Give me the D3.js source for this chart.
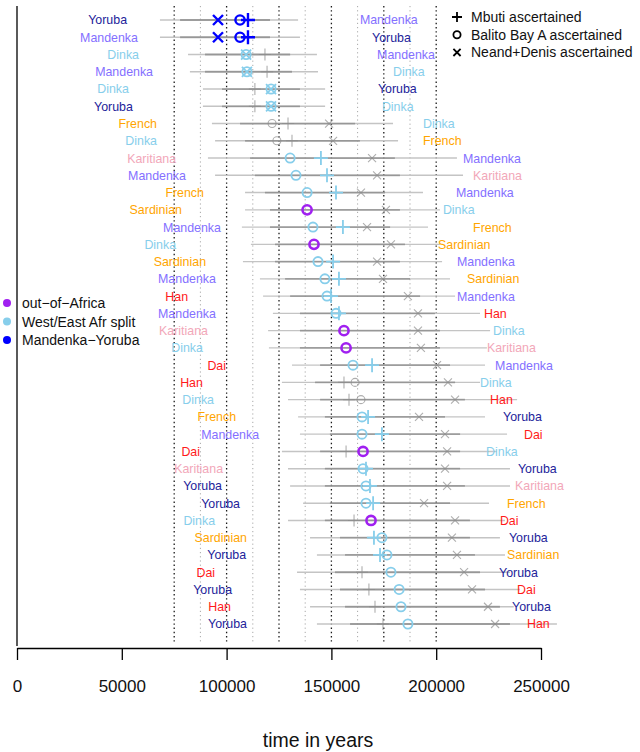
<!DOCTYPE html>
<html>
<head>
<meta charset="utf-8">
<script src="https://cdn.jsdelivr.net/npm/d3@7"></script>
<style>
  html, body { margin: 0; padding: 0; background: #fff; }
  svg { display: block; font-family: "Liberation Sans", Arial, Helvetica, sans-serif; }
</style>
</head>
<body>
<svg id="chart" width="640" height="752"></svg>
<script>
// Population pair shown at each end of a row (top row first)
const leftNames = ["Yoruba","Mandenka","Dinka","Mandenka","Dinka","Yoruba","French","Dinka","Karitiana","Mandenka","French","Sardinian","Mandenka","Dinka","Sardinian","Mandenka","Han","Mandenka","Karitiana","Dinka","Dai","Han","Dinka","French","Mandenka","Dai","Karitiana","Yoruba","Yoruba","Dinka","Sardinian","Yoruba","Dai","Yoruba","Han","Yoruba"];
const rightNames = ["Mandenka","Yoruba","Mandenka","Dinka","Yoruba","Dinka","Dinka","French","Mandenka","Karitiana","Mandenka","Dinka","French","Sardinian","Mandenka","Sardinian","Mandenka","Han","Dinka","Karitiana","Mandenka","Dinka","Han","Yoruba","Dai","Dinka","Yoruba","Karitiana","French","Dai","Yoruba","Sardinian","Yoruba","Dai","Yoruba","Han"];

// Where each name sits, in years
const leftAt = [52500,57700,58200,64900,53400,55300,66800,66800,75900,80600,89200,78700,97300,75900,90200,94900,81600,94900,91100,88700,99700,88700,94000,104500,115500,87300,98300,97800,106400,94500,109700,109300,94500,102600,102100,109700];
const rightAt = [163600,169400,171800,179400,172200,174100,193700,193700,212800,217600,209400,203200,217600,200900,209900,214700,209900,222800,227100,224200,228100,220900,225700,231900,241900,223800,239000,237600,233800,230400,234700,233800,230000,238600,236200,243300];

// Split-time estimates (years) under the three ascertainment schemes
const mbuti  = [110200,110200,118300,119300,113500,113500,129300,131200,145000,147900,152200,null,155500,null,150800,153600,149800,153600,null,null,169400,156000,158400,167500,174100,157000,166500,168400,169900,160800,170300,173200,164600,167900,170800,174600];
const balito = [106400,106400,109300,109700,121200,121200,121700,124000,130300,133100,138400,138400,141200,141700,143600,146900,147900,152200,156000,157000,160300,161300,164100,164600,164600,165100,165100,166500,166500,168900,174100,176500,178400,182300,183200,186500];
const neand  = [95900,95900,109300,109700,121200,121200,148900,150800,169400,171800,164100,176000,167000,178400,171800,174600,186500,191300,191300,192700,200400,205600,209000,191800,204200,205200,204200,205200,194200,209000,207500,209900,213300,217100,224700,228100];

// Confidence ranges (years): wide and narrow
const wideLo   = [68200,68200,81600,82500,88700,88700,93000,94500,91100,94500,108800,108800,107300,111600,107800,115900,117400,122100,119800,120200,131200,126400,129300,134100,135000,126400,129300,130300,136500,129300,139800,143100,133600,135000,139800,143100];
const wideHi   = [134100,135000,143100,143600,147000,147000,179400,181800,209900,212800,193700,201800,196100,201800,202800,206600,209000,220900,225700,224200,223300,220900,238600,223300,233800,229000,235200,235200,225200,232800,230400,232800,235200,240000,237000,257600];
const narrowLo = [77800,77800,89700,89700,97800,97800,106400,108800,111200,113500,118300,120700,120700,123100,123100,127900,130300,135000,135000,135000,144600,142200,144600,146900,149300,144600,146900,146900,149300,146900,154100,156500,151700,154100,156500,158900];
const narrowHi = [120700,120700,130300,131200,135000,135000,161300,163600,180300,182700,175600,182700,178000,185100,182700,187500,192300,199400,201800,201800,206600,209000,213700,204200,211400,211400,211400,213700,206600,216100,216100,218500,220900,223300,230400,235200];

// Which split each row dates, and which estimates are highlighted for it
const splitKind = ["MY","MY","WE","WE","WE","WE",null,null,"WE","WE","WE","OoA","WE","OoA","WE","WE","WE","WE","OoA","OoA","WE",null,null,"WE","WE","OoA","WE","WE","WE","OoA","WE","WE","WE","WE","WE","WE"];
const highlighted = ["+ox","+ox","ox","ox","ox","ox","","","+o","+o","+o","o","+o","o","+o","+o","+o","+o","o","o","+o","","","+o","+o","o","+o","+o","+o","o","+o","+o","o","o","o","o"];

const axisTicks = [0,50000,100000,150000,200000,250000];
const gridMajor = [75000,100000,125000,150000,175000,200000];
const gridMinor = [87500,112500,137500,162500,187500];

const splitNames = ["out\u2212of\u2212Africa","West/East Afr split","Mandenka\u2212Yoruba"];
const splitKeys = ["OoA","WE","MY"];
const markerNames = ["Mbuti ascertained","Balito Bay A ascertained","Neand+Denis ascertained"];

const splitColor = { OoA: "#a020f0", WE: "#87ceeb", MY: "#0000ff" };
const popColor = {
  Yoruba: "#23239a", Mandenka: "#8470ff", Dinka: "#87ceeb", French: "#ffa500",
  Sardinian: "#ffa500", Karitiana: "#f2a7b9", Han: "#ff1a1a", Dai: "#ff1a1a"
};
const grey = "#8c8c8c";

const svg = d3.select("#chart");
const x = d3.scaleLinear().domain([0, 250000]).range([17, 541]);
const y = d3.scalePoint().domain(d3.range(leftNames.length)).range([20, 624]);

const rows = leftNames.map((n, i) => ({
  i, left: n, right: rightNames[i], leftAt: leftAt[i], rightAt: rightAt[i],
  plus: mbuti[i], circ: balito[i], cross: neand[i],
  wLo: wideLo[i], wHi: wideHi[i], nLo: narrowLo[i], nHi: narrowHi[i],
  kind: splitKind[i], hl: highlighted[i]
}));

// Left frame line
svg.append("line").attr("x1", x(0)).attr("x2", x(0)).attr("y1", 6).attr("y2", 646)
  .attr("stroke", "#000").attr("stroke-width", 1.3);

// Dotted reference lines
svg.append("g").selectAll("line").data(gridMinor).join("line")
  .attr("x1", d => x(d)).attr("x2", d => x(d)).attr("y1", 6).attr("y2", 644)
  .attr("stroke", "#a8a8a8").attr("stroke-width", 1).attr("stroke-dasharray", "1.2,3");
svg.append("g").selectAll("line").data(gridMajor).join("line")
  .attr("x1", d => x(d)).attr("x2", d => x(d)).attr("y1", 6).attr("y2", 644)
  .attr("stroke", "#1a1a1a").attr("stroke-width", 1.3).attr("stroke-dasharray", "1.4,2.8");

// Confidence ranges
const ci = svg.append("g");
ci.selectAll("line.wide").data(rows).join("line").attr("class", "wide")
  .attr("x1", d => x(d.wLo)).attr("x2", d => x(d.wHi))
  .attr("y1", d => y(d.i)).attr("y2", d => y(d.i))
  .attr("stroke", "#c4c4c4").attr("stroke-width", 1.4);
ci.selectAll("line.narrow").data(rows).join("line").attr("class", "narrow")
  .attr("x1", d => x(d.nLo)).attr("x2", d => x(d.nHi))
  .attr("y1", d => y(d.i)).attr("y2", d => y(d.i))
  .attr("stroke", "#7a7a7a").attr("stroke-width", 1.8).attr("stroke-opacity", 0.6);

// Population names
svg.append("g").selectAll("text").data(rows).join("text")
  .attr("x", d => x(d.leftAt)).attr("y", d => y(d.i)).attr("dy", "0.36em")
  .attr("text-anchor", "end").attr("font-size", 12.4)
  .attr("fill", d => popColor[d.left]).text(d => d.left);
svg.append("g").selectAll("text").data(rows).join("text")
  .attr("x", d => x(d.rightAt)).attr("y", d => y(d.i)).attr("dy", "0.36em")
  .attr("text-anchor", "start").attr("font-size", 12.4)
  .attr("fill", d => popColor[d.right]).text(d => d.right);

// Marker drawing helpers
function plusPath(cx, cy, h) { return `M${cx - h},${cy}H${cx + h}M${cx},${cy - h}V${cy + h}`; }
function crossPath(cx, cy, h) { return `M${cx - h},${cy - h}L${cx + h},${cy + h}M${cx - h},${cy + h}L${cx + h},${cy - h}`; }

const marks = svg.append("g");
function style(d, key) {
  const on = d.kind && d.hl.includes(key);
  return on ? { c: splitColor[d.kind], w: d.kind === "WE" ? 1.8 : 2.4, o: 1 }
            : { c: grey, w: 1.1, o: 0.7 };
}
// Grey markers first, highlighted ones on top
[false, true].forEach(layer => {
  rows.forEach(d => {
    const cy = y(d.i);
    if (d.cross != null) {
      const s = style(d, "x"), on = s.c !== grey;
      if (on === layer) marks.append("path").attr("d", crossPath(x(d.cross), cy, on ? 5 : 4))
        .attr("stroke", s.c).attr("stroke-width", s.w).attr("stroke-opacity", s.o).attr("fill", "none");
    }
    if (d.circ != null) {
      const s = style(d, "o"), on = s.c !== grey;
      if (on === layer) marks.append("circle").attr("cx", x(d.circ)).attr("cy", cy).attr("r", on ? 4.6 : 4)
        .attr("stroke", s.c).attr("stroke-width", d.kind === "OoA" && on ? 2.6 : s.w)
        .attr("stroke-opacity", s.o).attr("fill", "none");
    }
    if (d.plus != null) {
      const s = style(d, "+"), on = s.c !== grey;
      if (on === layer) marks.append("path").attr("d", plusPath(x(d.plus), cy, on ? 7 : 6))
        .attr("stroke", s.c).attr("stroke-width", s.w).attr("stroke-opacity", s.o).attr("fill", "none");
    }
  });
});

// X axis
const axis = d3.axisBottom(x).tickValues(axisTicks).tickFormat(d3.format("d"))
  .tickSize(12).tickSizeOuter(0).tickPadding(20);
const ax = svg.append("g").attr("transform", "translate(0,648)").call(axis);
ax.select(".domain").attr("stroke", "#000").attr("stroke-width", 1.3);
ax.selectAll(".tick line").attr("stroke", "#000").attr("stroke-width", 1.3);
ax.selectAll(".tick text").attr("font-size", 17).attr("fill", "#111")
  .attr("font-family", "\"Liberation Sans\", Arial, sans-serif");

svg.append("text").attr("x", 318).attr("y", 747).attr("text-anchor", "middle")
  .attr("font-size", 19.5).attr("fill", "#111").text("time in years");

// Legend: split types
const lg = svg.append("g");
splitKeys.forEach((k, j) => {
  const cy = 303 + j * 18.5;
  lg.append("circle").attr("cx", 7).attr("cy", cy).attr("r", 4).attr("fill", splitColor[k]);
  lg.append("text").attr("x", 22).attr("y", cy).attr("dy", "0.36em")
    .attr("font-size", 14).attr("fill", "#111").text(splitNames[j]);
});

// Legend: ascertainment schemes
const lm = svg.append("g");
markerNames.forEach((name, j) => {
  const cy = 17 + j * 17.7, cx = 457;
  if (j === 0) lm.append("path").attr("d", plusPath(cx, cy, 5)).attr("stroke", "#000").attr("stroke-width", 1.8);
  if (j === 1) lm.append("circle").attr("cx", cx).attr("cy", cy).attr("r", 3.6).attr("stroke", "#000").attr("stroke-width", 1.8).attr("fill", "none");
  if (j === 2) lm.append("path").attr("d", crossPath(cx, cy, 3.6)).attr("stroke", "#000").attr("stroke-width", 1.8);
  lm.append("text").attr("x", 471).attr("y", cy).attr("dy", "0.36em")
    .attr("font-size", 14).attr("fill", "#111").text(name);
});
</script>
</body>
</html>
